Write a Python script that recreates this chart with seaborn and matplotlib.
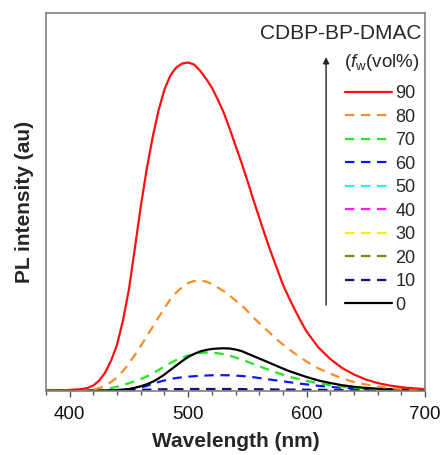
import matplotlib
matplotlib.use("Agg")
import matplotlib.pyplot as plt
from matplotlib.lines import Line2D
from matplotlib.ticker import MultipleLocator
import seaborn as sns
import pandas as pd

# ---------------- data ----------------
wavelength = [380, 390, 400, 410, 415, 420, 425, 430, 435, 440, 445, 450, 455, 460,
              465, 470, 475, 480, 485, 490, 495, 500, 505, 510, 515, 520, 525, 530,
              535, 540, 545, 550, 555, 560, 565, 570, 575, 580, 585, 590, 595, 600,
              610, 620, 630, 640, 650, 660, 670, 680, 690, 700]

fw_90 = [0, 0, 0.5, 1.5, 2.5, 5, 10, 18, 30, 46, 70, 101, 142, 184,
         221, 253, 280, 301, 315, 323, 327, 328, 326, 320, 312, 303, 291, 278,
         262, 245, 228, 210, 191, 173, 155, 138, 122, 106, 93, 81, 69.5, 59,
         43, 31.5, 22.5, 16, 11, 7.5, 5, 3.3, 2.2, 1.4]
fw_80 = [0, 0, 0, 0.3, 0.6, 1, 2.5, 5, 8.5, 13, 19.5, 27, 35.5, 44.5,
         54, 63.5, 73, 82.5, 91, 98, 103.5, 107.5, 109.5, 110, 109, 106.5, 103, 99.5,
         95, 90, 85.5, 79.5, 73, 67.5, 62, 56.5, 51, 46, 41.5, 37, 33, 29,
         22, 17, 12, 8.5, 6, 4, 2.5, 1.5, 1, 0.5]
fw_70 = [0, 0, 0, 0, 0, 0, 0.3, 1, 2.3, 3.8, 5.5, 7.3, 9.3, 11.5,
         14, 17, 20.5, 24, 27.5, 30.5, 33, 35, 36.5, 37.5, 38, 38, 37.3, 36.3,
         34.8, 33, 31, 28.8, 26.5, 24.3, 22, 20, 17.8, 15.8, 14, 12.4, 11, 9.6,
         7.2, 5.3, 3.9, 2.8, 2, 1.4, 1, 0.7, 0.5, 0.3]
fw_60 = [0, 0, 0, 0, 0, 0, 0, 0, 0, 0.2, 0.5, 1, 2, 3,
         4.5, 6.5, 8.5, 10, 11.5, 12.5, 13.2, 13.8, 14.3, 14.7, 15, 15.2, 15.3, 15.3,
         15.2, 14.9, 14.5, 14, 13.3, 12.5, 11.7, 10.8, 10, 9.2, 8.4, 7.6, 6.8, 6.1,
         4.7, 3.6, 2.7, 2, 1.5, 1.1, 0.8, 0.6, 0.4, 0.3]
fw_50 = [0, 0, 0, 0, 0, 0, 0, 0, 0, 0, 0, 0, 0.1, 0.2,
         0.3, 0.4, 0.5, 0.5, 0.6, 0.6, 0.6, 0.6, 0.6, 0.6, 0.6, 0.6, 0.6, 0.6,
         0.6, 0.6, 0.5, 0.5, 0.5, 0.5, 0.4, 0.4, 0.4, 0.3, 0.3, 0.3, 0.3, 0.3,
         0.2, 0.2, 0.1, 0.1, 0.1, 0, 0, 0, 0, 0]
fw_40 = [0, 0, 0, 0, 0, 0, 0, 0, 0, 0, 0, 0, 0.1, 0.1,
         0.2, 0.3, 0.4, 0.4, 0.5, 0.5, 0.5, 0.5, 0.5, 0.5, 0.5, 0.5, 0.5, 0.5,
         0.5, 0.5, 0.4, 0.4, 0.4, 0.4, 0.3, 0.3, 0.3, 0.3, 0.2, 0.2, 0.2, 0.2,
         0.2, 0.1, 0.1, 0.1, 0, 0, 0, 0, 0, 0]
fw_30 = [0, 0, 0, 0, 0, 0, 0, 0, 0, 0, 0, 0, 0.1, 0.1,
         0.2, 0.2, 0.3, 0.3, 0.4, 0.4, 0.4, 0.4, 0.4, 0.4, 0.4, 0.4, 0.4, 0.4,
         0.4, 0.4, 0.3, 0.3, 0.3, 0.3, 0.3, 0.2, 0.2, 0.2, 0.2, 0.2, 0.2, 0.1,
         0.1, 0.1, 0.1, 0, 0, 0, 0, 0, 0, 0]
fw_20 = [0, 0, 0, 0, 0, 0, 0, 0, 0, 0, 0, 0, 0, 0.1,
         0.1, 0.2, 0.2, 0.2, 0.3, 0.3, 0.3, 0.3, 0.3, 0.3, 0.3, 0.3, 0.3, 0.3,
         0.3, 0.3, 0.3, 0.2, 0.2, 0.2, 0.2, 0.2, 0.2, 0.1, 0.1, 0.1, 0.1, 0.1,
         0.1, 0.1, 0, 0, 0, 0, 0, 0, 0, 0]
fw_10 = [0, 0, 0, 0, 0, 0, 0, 0, 0, 0, 0.1, 0.2, 0.4, 0.6,
         0.8, 1.0, 1.1, 1.2, 1.3, 1.4, 1.4, 1.5, 1.5, 1.5, 1.5, 1.5, 1.5, 1.5,
         1.5, 1.4, 1.4, 1.3, 1.3, 1.2, 1.2, 1.1, 1.0, 1.0, 0.9, 0.9, 0.8, 0.8,
         0.7, 0.6, 0.5, 0.5, 0.4, 0.3, 0.3, 0.3, 0.2, 0.2]
fw_0 = [0, 0, 0, 0, 0, 0, 0, 0.1, 0.3, 0.5, 1, 1.5, 2.7, 4.2,
        6.2, 8.7, 12, 16, 20.5, 25, 29.5, 33.5, 36.5, 39, 40.5, 41.5, 42, 42.2,
        42, 41, 39.5, 37, 34.5, 32, 29.5, 27, 24.5, 22, 19.5, 17.5, 15.5, 13.5,
        10, 7.5, 5.3, 3.7, 2.6, 1.8, 1.3, 1, 0.7, 0.5]

labels = ["90", "80", "70", "60", "50", "40", "30", "20", "10", "0"]
series = {"90": fw_90, "80": fw_80, "70": fw_70, "60": fw_60, "50": fw_50,
          "40": fw_40, "30": fw_30, "20": fw_20, "10": fw_10, "0": fw_0}
colors = {"90": "#ff1010", "80": "#f58d2a", "70": "#22e622", "60": "#1414f0",
          "50": "#1ef0f0", "40": "#f020f0", "30": "#f0f010", "20": "#888810",
          "10": "#10107a", "0": "#000000"}
DASH = (0, (4.2, 3.0))
styles = {k: ("-" if k in ("90", "0") else DASH) for k in labels}
draw_order = ["20", "30", "40", "50", "10", "60", "70", "0", "80", "90"]

# ---------------- style ----------------
sns.set_theme(style="ticks")
plt.rcParams["font.family"] = ["Liberation Sans", "DejaVu Sans"]
plt.rcParams["mathtext.fontset"] = "custom"
plt.rcParams["mathtext.rm"] = "Liberation Sans"
plt.rcParams["mathtext.it"] = "Liberation Sans:italic"

fig = plt.figure(figsize=(4.42, 4.55), dpi=100)
ax = fig.add_axes([46 / 442, 64 / 455, 379 / 442, 378 / 455])

for k in draw_order:
    df = pd.DataFrame({"wl": wavelength, "I": series[k]})
    sns.lineplot(data=df, x="wl", y="I", ax=ax, color=colors[k],
                 linestyle=styles[k], linewidth=1.6, legend=False)

ax.set_xlim(380, 700)
ax.set_ylim(-0.5, 377.5)
ax.xaxis.set_major_locator(MultipleLocator(100))
ax.xaxis.set_minor_locator(MultipleLocator(20))
ax.set_yticks([])
ax.tick_params(axis="x", which="major", direction="out", length=4, width=1,
               color="#555555", labelsize=13.5, pad=7, labelcolor="#111111")
ax.tick_params(axis="x", which="minor", direction="out", length=3, width=1,
               color="#555555")
for sp in ax.spines.values():
    sp.set_color("#808080")
    sp.set_linewidth(1.2)

ax.set_xlabel("Wavelength (nm)", fontsize=15, fontweight="bold", labelpad=6)
ax.set_ylabel("PL intensity (au)", fontsize=15, fontweight="bold", labelpad=9)

# legend
handles = [Line2D([], [], color=colors[k], linestyle=styles[k], linewidth=1.6)
           for k in labels]
leg = ax.legend(handles, labels, loc="upper right",
                bbox_to_anchor=(0.975, 0.809), frameon=False, fontsize=13,
                handlelength=2.6, handletextpad=0.2, labelspacing=0.36,
                borderpad=0, borderaxespad=0)

ax.text(0.99, 0.947, "CDBP-BP-DMAC", transform=ax.transAxes, ha="right",
        va="center", fontsize=15)
ax.text(0.985, 0.868, r"($f_{\mathrm{w}}$(vol%)", transform=ax.transAxes,
        ha="right", va="center", fontsize=13.5)
ax.annotate("", xy=(0.739, 0.883), xytext=(0.739, 0.2275),
            xycoords="axes fraction", textcoords="axes fraction",
            arrowprops=dict(arrowstyle="-|>", color="#222222", lw=1,
                            mutation_scale=9, shrinkA=0, shrinkB=0))

fig.savefig("out.png", dpi=100)
